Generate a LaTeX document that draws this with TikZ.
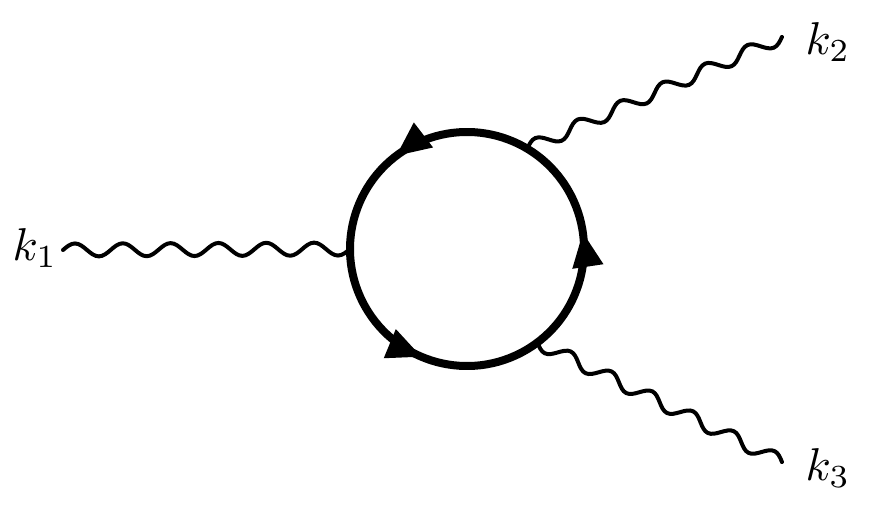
\documentclass[tikz,border=0pt]{standalone}
\usetikzlibrary{decorations,decorations.markings,arrows.meta}
\pgfdeclaredecoration{sinewave}{wave}{%
  \state{wave}[width=\pgfdecoratedpathlength/\phn-0.01pt]{%
    \pgfmathsetlengthmacro\L{\pgfdecoratedpathlength/\phn}%
    \pgfmathsetlengthmacro\A{\pgfdecorationsegmentamplitude}%
    \pgfpathcurveto{\pgfpoint{0.08153*\L}{0.5123*\A}}{\pgfpoint{0.15952*\L}{\A}}{\pgfpoint{0.25*\L}{\A}}%
    \pgfpathcurveto{\pgfpoint{0.34048*\L}{\A}}{\pgfpoint{0.41847*\L}{0.5123*\A}}{\pgfpoint{0.5*\L}{0pt}}%
    \pgfpathcurveto{\pgfpoint{0.58153*\L}{-0.5123*\A}}{\pgfpoint{0.65952*\L}{-\A}}{\pgfpoint{0.75*\L}{-\A}}%
    \pgfpathcurveto{\pgfpoint{0.84048*\L}{-\A}}{\pgfpoint{0.91847*\L}{-0.5123*\A}}{\pgfpoint{\L}{0pt}}%
  }%
  \state{final}{\pgfpathlineto{\pgfpointdecoratedpathlast}}%
}
\begin{document}
\begin{tikzpicture}[x=1pt,y=1pt,
  photon/.style={line width=4pt,line cap=round,decorate,
    decoration={sinewave,amplitude=#1},/utils/exec={\def\phn{6}}},
  photon/.default=6.5pt,
  fermionloop/.style={line width=8pt,postaction={decorate},
    decoration={markings,
      mark=at position 0.190 with {\arrow{Triangle[length=35pt,width=29pt]}},
      mark=at position 0.521 with {\arrow{Triangle[length=35pt,width=29pt]}},
      mark=at position 0.854 with {\arrow{Triangle[length=35pt,width=29pt]}}}},
  lbl/.style={inner sep=0pt,scale=4.6}]
\useasboundingbox (0,0) rectangle (881,515);
% loop
\node[circle,minimum size=234pt,inner sep=0pt,outer sep=0pt] (loop) at (467,266) {};
\draw[fermionloop] (loop.center) ++(-60:117) arc[start angle=-60,end angle=300,radius=117];
% labels
\node[lbl] (k1) at (35,267) {$k_1$};
\node[lbl] (k2) at (828,473) {$k_2$};
\node[lbl] (k3) at (828,47) {$k_3$};
% free ends
\coordinate (e1) at (63,265);
\coordinate (e2) at (782,478);
\coordinate (e3) at (782,53);
% photons
\draw[photon] (e1) -- (loop.180);
\draw[photon] (loop.59) -- (e2);
\draw[photon=-6.5pt] (loop.-53) -- (e3);
\end{tikzpicture}
\end{document}
